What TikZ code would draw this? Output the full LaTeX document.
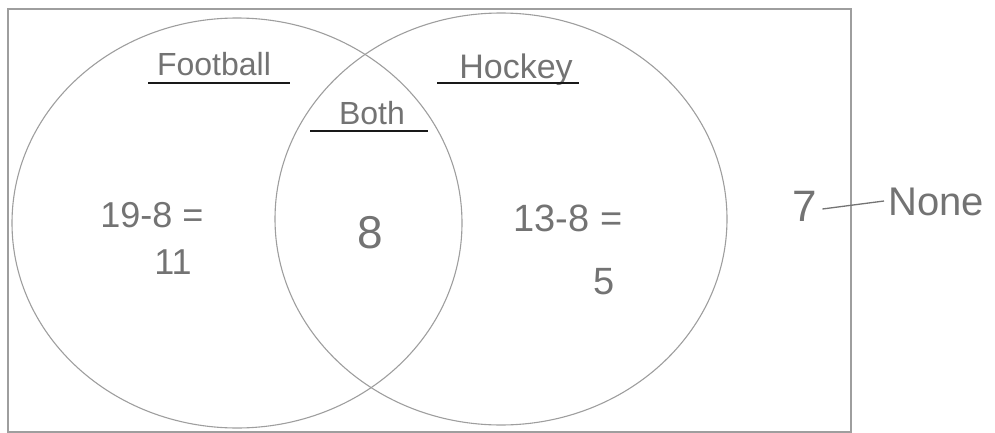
\documentclass[tikz,border=0pt]{standalone}
\usepackage{fontspec}
\setmainfont{Liberation Sans}
\begin{document}
\begin{tikzpicture}[x=1pt,y=-1pt,
  pencil/.style={draw=black!38, line width=1.1pt},
  uline/.style={draw=black!90, line width=1.6pt},
  hand/.style={text=black!55, inner sep=0pt, anchor=center},
]
\useasboundingbox (0,0) rectangle (995,433);
% frame and circles
\draw[pencil] (8,9) rectangle (851,432);
\draw[pencil] (237,223) ellipse [x radius=225, y radius=205];
\draw[pencil] (501,219) ellipse [x radius=226, y radius=206];
% headings
\node[hand, font=\fontsize{32}{32}\selectfont] (football) at (214,64) {Football};
\draw[uline] (148,83) -- (290,83);
\node[hand, font=\fontsize{34}{34}\selectfont] (hockey) at (516,70) {Hockey};
\draw[uline] (437,83) -- (579,83);
\node[hand, font=\fontsize{32}{32}\selectfont] (both) at (372,113) {Both};
\draw[uline] (310,131) -- (428,131);
% numbers
\node[hand, font=\fontsize{36}{36}\selectfont] (left) at (152,215) {19-8 =};
\node[hand, font=\fontsize{36}{36}\selectfont] (lans) at (173,262) {11};
\node[hand, font=\fontsize{46}{46}\selectfont] (mid) at (370,233) {8};
\node[hand, font=\fontsize{38}{38}\selectfont] (right) at (568,218) {13-8 =};
\node[hand, font=\fontsize{38}{38}\selectfont] (rans) at (604,282) {5};
\node[hand, font=\fontsize{44}{44}\selectfont] (seven) at (805,206) {7};
\node[hand, font=\fontsize{40}{40}\selectfont] (none) at (936,202) {None};
\draw[draw=black!55, line width=1.3pt] ([xshift=5pt,yshift=-3pt]seven.east) -- ([xshift=-4pt,yshift=1pt]none.west);
\end{tikzpicture}
\end{document}
